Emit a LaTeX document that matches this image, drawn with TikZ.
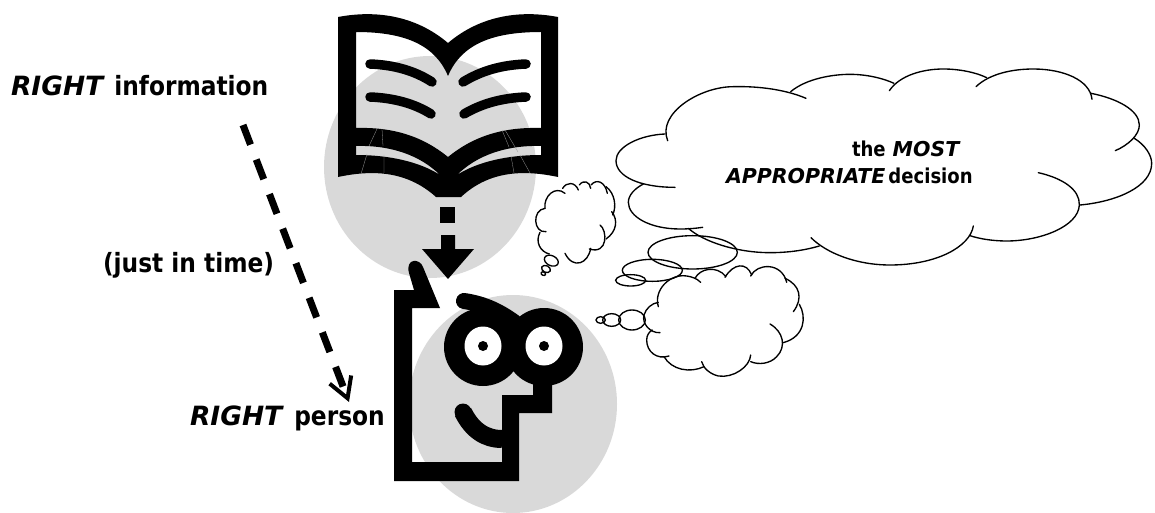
\documentclass[tikz,border=0pt]{standalone}
\usepackage{fontspec}
\setmainfont{DejaVu Sans}
\newfontfamily\wordfont{DejaVu Sans}[FakeStretch=0.88]
\newfontfamily\capsfont{DejaVu Sans}
\usetikzlibrary{arrows.meta}
\definecolor{disc}{HTML}{D9D9D9}
\newcommand{\caps}[1]{{\capsfont\bfseries\itshape #1}}
\tikzset{
  lab/.style={font=\wordfont\bfseries\fontsize{26.5}{30}\selectfont,anchor=base west,inner sep=0pt,outer sep=0pt},
  clab/.style={font=\wordfont\bfseries\fontsize{20.5}{24}\selectfont,anchor=base west,inner sep=0pt,outer sep=0pt},
  cloudline/.style={line width=1.35pt,line cap=round},
  bubble/.style={draw,line width=1.35pt},
  pageline/.style={line width=9.5pt,line cap=round},
  thin line/.style={disc!70!black,line width=0.3pt},
}
\begin{document}
\begin{tikzpicture}[x=1pt,y=-1pt]
\useasboundingbox (0,0) rectangle (1155,513);
% discs
\fill[disc] (430,167) ellipse [x radius=106,y radius=111];
\fill[disc] (513,404) ellipse [x radius=104,y radius=109];
% book
\fill[black,even odd rule]
  (338,17) .. controls (375,10) and (415,15) .. (448,43)
  .. controls (481,15) and (521,10) .. (558,17) -- (558,177)
  .. controls (525,170) and (490,170) .. (461,197) -- (436,197)
  .. controls (406,170) and (371,170) .. (338,177) -- cycle
  (356,32) .. controls (405,32) and (435,45) .. (448,76)
  .. controls (461,45) and (491,32) .. (541,32) -- (541,128)
  .. controls (505,127) and (475,135) .. (448,157)
  .. controls (421,135) and (391,127) .. (356,128) -- cycle
  (356,146) .. controls (390,145) and (420,155) .. (440,175)
  .. controls (420,162) and (390,155) .. (356,155) -- cycle
  (541,146) .. controls (507,145) and (477,155) .. (457,175)
  .. controls (477,162) and (507,155) .. (541,155) -- cycle;
\draw[pageline] (370,64) .. controls (395,65) and (415,71) .. (432,82);
\draw[pageline] (370,97) .. controls (395,98) and (415,104) .. (431,114);
\draw[pageline] (526,64) .. controls (501,65) and (481,71) .. (463,82);
\draw[pageline] (526,97) .. controls (501,98) and (481,104) .. (464,114);
\draw[thin line] (377,129) -- (369,146) (367,154) -- (361,174);
\draw[thin line] (382,129) -- (383,146) (384,155) -- (384,173);
\draw[thin line] (502,130) -- (509,147) (511,156) -- (514,173);
\draw[thin line] (505,130) -- (518,152) (520,155) -- (530,173);
% arrow from book to head
\fill[black] (440,207) rectangle (455,223);
\fill[black] (441,235) -- (455,235) -- (455,249) -- (474,249) -- (448,279) -- (422,249) -- (441,249) -- cycle;
% head
\fill[black] (394,290) -- (414,290) -- (409,273)
  .. controls (405,258) and (420,258) .. (423,267)
  -- (440,308) -- (412,308) -- (412,462) -- (502,462) -- (502,395) -- (533,395)
  -- (533,380) -- (552,380) -- (552,413) -- (519,413) -- (519,481) -- (394,481) -- cycle;
\fill[black] (483,347) circle [radius=39];
\fill[black] (544,347) circle [radius=39];
\fill[white] (483,346) ellipse [x radius=18.5,y radius=19.5];
\fill[white] (544,346) ellipse [x radius=18.5,y radius=19.5];
\fill[black] (483,346) circle [radius=5];
\fill[black] (544,346) circle [radius=5];
\draw[line width=16pt,line cap=round] (464,301) .. controls (485,304) and (500,312) .. (514,322);
\draw[line width=18pt] (502,439) .. controls (485,439) and (472,430) .. (463,412);
\fill[black] (463,412) circle [radius=8.5];
% dashed arrow
\coordinate (arrowstart) at (243,125);
\coordinate (arrowend) at (349,402);
\draw[line width=7pt,dash pattern=on 21pt off 16pt,
  -{Straight Barb[length=20pt,width=23pt,line width=4pt]}] (arrowstart) -- (arrowend);
% labels
\node[lab] (rightinfo) at (11,96) {\caps{RIGHT}\hspace{11pt}information};
\node[lab] (justintime) at (103,272) {(just in time)};
\node[lab] (rightperson) at (190,425) {\caps{RIGHT}\hspace{12pt}person};
\node[clab] (most) at (852,157) {the\hspace{7pt}{\fontsize{20.5}{24}\selectfont\caps{MOST}}};
\node[clab] (approp) at (726,183) {{\fontsize{20.5}{24}\selectfont\caps{APPROPRIATE}}\hspace{3pt}decision};
% big cloud (coordinates of a 3x crop at 600,40)
\begin{scope}[shift={(600,40)},scale=1/3]
\draw[cloudline] (203,302) .. controls (170,220) and (300,140) .. (400,140) .. controls (480,138) and (560,150) .. (618,175);
\draw[cloudline] (572,155) .. controls (620,115) and (700,103) .. (750,103) .. controls (800,103) and (850,115) .. (882,130);
\draw[cloudline] (868,152) .. controls (900,105) and (970,87) .. (1030,87) .. controls (1080,87) and (1130,98) .. (1160,113);
\draw[cloudline] (1128,140) .. controls (1170,100) and (1240,87) .. (1300,87) .. controls (1390,87) and (1470,120) .. (1476,178);
\draw[cloudline] (1315,398) .. controls (1390,415) and (1440,450) .. (1438,495) .. controls (1435,560) and (1320,603) .. (1220,603) .. controls (1180,603) and (1140,597) .. (1110,587);
\draw[cloudline] (1120,558) .. controls (1110,620) and (1010,675) .. (870,675) .. controls (770,675) and (680,640) .. (633,593);
\draw[cloudline] (658,618) .. controls (610,632) and (560,638) .. (510,638) .. controls (410,638) and (310,605) .. (265,565);
\draw[cloudline] (308,562) .. controls (280,566) and (260,567) .. (240,567) .. controls (150,567) and (85,530) .. (85,487) .. controls (85,465) and (105,445) .. (130,432);
\draw[cloudline] (225,442) .. controls (120,442) and (48,410) .. (48,362) .. controls (48,320) and (120,285) .. (195,282);
\end{scope}
\begin{scope}[shift={(1000,50)},scale=1/3]
\draw[cloudline] (273,130) .. controls (350,145) and (418,180) .. (418,225) .. controls (418,255) and (385,285) .. (346,302);
\draw[cloudline] (403,265) .. controls (435,285) and (455,315) .. (455,340) .. controls (455,410) and (350,455) .. (240,465);
\end{scope}
% small clouds (3x crop at 520,170)
\begin{scope}[shift={(520,170)},scale=1/3]
\draw[cloudline] (75,115) .. controls (70,80) and (105,45) .. (135,70);
\draw[cloudline] (128,55) .. controls (140,35) and (165,35) .. (175,60);
\draw[cloudline] (178,45) .. controls (190,28) and (210,35) .. (212,55);
\draw[cloudline] (213,45) .. controls (230,25) and (255,35) .. (262,70);
\draw[cloudline] (258,50) .. controls (285,70) and (290,110) .. (278,135);
\draw[cloudline] (275,125) .. controls (295,150) and (290,185) .. (258,207);
\draw[cloudline] (240,165) .. controls (262,180) and (265,255) .. (208,237);
\draw[cloudline] (212,235) .. controls (205,280) and (160,300) .. (135,250);
\draw[cloudline] (78,185) .. controls (40,190) and (35,120) .. (75,115);
\draw[cloudline] (60,187) .. controls (45,215) and (60,245) .. (88,252);
\draw[bubble,rotate around={-25:(94,272)}] (94,272) ellipse [x radius=22,y radius=15];
\draw[bubble,rotate around={-25:(78,297)}] (78,297) ellipse [x radius=14,y radius=10];
\draw[bubble,rotate around={-25:(70,311)}] (70,311) ellipse [x radius=7,y radius=5];
\draw[bubble] (518,247) ellipse [x radius=134,y radius=50];
\draw[bubble] (397,301) ellipse [x radius=90,y radius=33];
\draw[bubble] (332,331) ellipse [x radius=45,y radius=17];
\draw[bubble] (336,450) ellipse [x radius=40,y radius=30];
\draw[bubble] (275,450) ellipse [x radius=27,y radius=19];
\draw[bubble] (242,450) ellipse [x radius=14,y radius=10];
\draw[cloudline] (420,488) .. controls (390,490) and (365,460) .. (372,435) .. controls (378,415) and (395,400) .. (415,397);
\draw[cloudline] (415,410) .. controls (400,360) and (450,310) .. (500,318) .. controls (515,320) and (530,325) .. (542,337);
\draw[cloudline] (525,325) .. controls (540,295) and (590,285) .. (618,320);
\draw[cloudline] (615,322) .. controls (640,280) and (680,275) .. (695,315);
\draw[cloudline] (692,318) .. controls (710,280) and (785,275) .. (800,337);
\draw[cloudline] (795,325) .. controls (840,345) and (850,385) .. (820,425);
\draw[cloudline] (838,403) .. controls (860,440) and (855,500) .. (790,518);
\draw[cloudline] (750,462) .. controls (790,485) and (800,530) .. (770,560) .. controls (750,582) and (715,585) .. (692,575);
\draw[cloudline] (692,555) .. controls (690,590) and (640,625) .. (595,618) .. controls (570,612) and (550,595) .. (545,575);
\draw[cloudline] (552,590) .. controls (510,610) and (455,600) .. (432,560);
\draw[cloudline] (447,558) .. controls (410,570) and (380,545) .. (380,510) .. controls (380,495) and (388,485) .. (397,480);
\end{scope}
\end{tikzpicture}
\end{document}
